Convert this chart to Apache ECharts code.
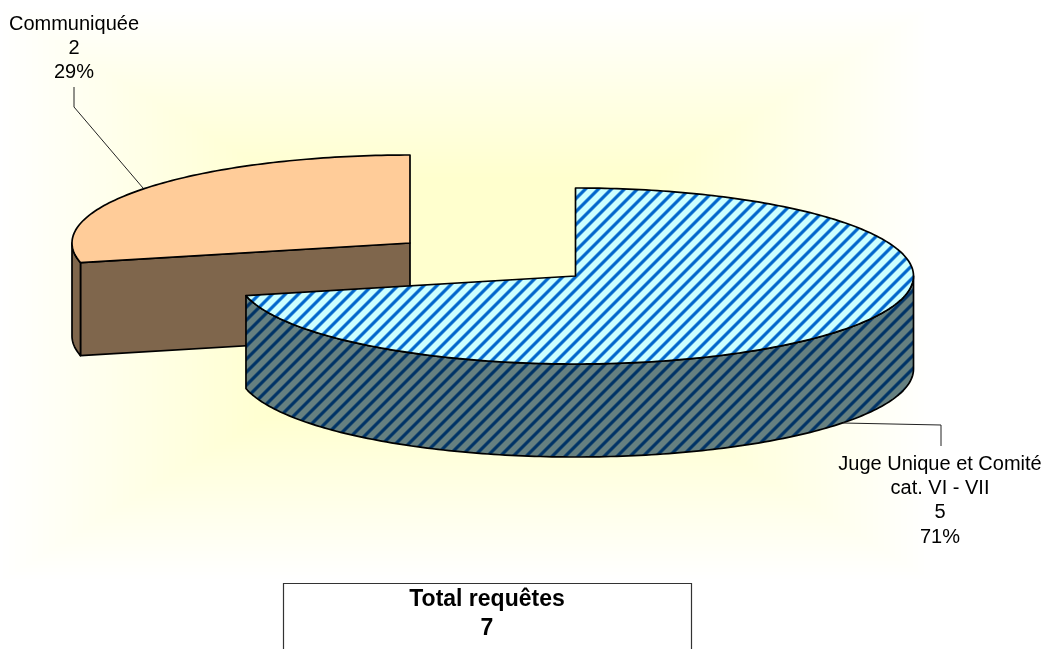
<!DOCTYPE html>
<html>
<head>
<meta charset="utf-8">
<title>Total requêtes</title>
<script src="https://cdn.jsdelivr.net/npm/echarts@6/dist/echarts.min.js"></script>
<style>
  html, body { margin: 0; padding: 0; background: #fff; }
  #chart { width: 1043px; height: 649px; }
</style>
</head>
<body>
<div id="chart"></div>
<script>
// data
var categories = ['Juge Unique et Comité\ncat. VI - VII', 'Communiquée'];
var values = [5, 2];

// pie geometry: squashed ellipse, one exploded centre per slice
var RX = 338, RY = 88, DEPTH = 93;
var centers = [[575.5, 276], [410, 243]];
var zOrder = [10, 0];

// leader lines and label anchors
var leaders = [[[843, 423], [941, 425], [941, 446]], [[143, 188], [74, 107], [74, 87]]];
var labelPos = [[940, 452], [74, 12]];

var total = values.reduce(function (a, b) { return a + b; }, 0);

// diagonal hatch tile
function hatch(bg, fg, period, width, shift) {
    var c = document.createElement('canvas');
    c.width = c.height = period;
    var ctx = c.getContext('2d');
    var b = echarts.color.parse(bg), f = echarts.color.parse(fg);
    var img = ctx.createImageData(period, period);
    for (var y = 0; y < period; y++) {
        for (var x = 0; x < period; x++) {
            var d = (x + y + shift) % period;
            // distance from stripe centre, soft edge
            var dist = Math.abs(d - period / 2);
            var t = Math.max(0, Math.min(1, (width / 2 - dist) / 2 + 0.5));
            var i = (y * period + x) * 4;
            img.data[i] = b[0] + (f[0] - b[0]) * t;
            img.data[i + 1] = b[1] + (f[1] - b[1]) * t;
            img.data[i + 2] = b[2] + (f[2] - b[2]) * t;
            img.data[i + 3] = 255;
        }
    }
    ctx.putImageData(img, 0, 0);
    return { image: c, repeat: 'repeat' };
}

var topFill = [hatch('#CCFFFF', '#0066CC', 13, 4.5, 0), '#FFCC99'];
var wallFill = [hatch('#668080', '#003366', 13, 4.5, 0), '#7F664C'];

// rectangular "from centre" gradient behind the plot
function backdrop() {
    var w = 1043, h = 649, cx = 466, cy = 293, hw = 466, hh = 287;
    var c = document.createElement('canvas');
    c.width = w; c.height = h;
    var ctx = c.getContext('2d');
    var img = ctx.createImageData(w, h);
    for (var y = 0; y < h; y++) {
        for (var x = 0; x < w; x++) {
            var t = Math.max(Math.abs(x - cx) / hw, Math.abs(y - cy) / hh);
            t = Math.max(0, Math.min(1, (t - 0.4) / 0.6));
            var i = (y * w + x) * 4;
            img.data[i] = 255;
            img.data[i + 1] = 255;
            img.data[i + 2] = 206 + 49 * t;
            img.data[i + 3] = 255;
        }
    }
    ctx.putImageData(img, 0, 0);
    return c;
}

// angle is clockwise from 12 o'clock
function pt(c, deg, dy) {
    var a = deg * Math.PI / 180;
    return [c[0] + RX * Math.sin(a), c[1] - RY * Math.cos(a) + (dy || 0)];
}

function arc(c, from, to, dy) {
    var pts = [];
    for (var d = from; d < to; d += 1) pts.push(pt(c, d, dy));
    pts.push(pt(c, to, dy));
    return pts;
}

function poly(points, fill, z2) {
    return {
        type: 'polygon',
        shape: { points: points },
        style: { fill: fill, stroke: '#000', lineWidth: 1.7, lineJoin: 'round' },
        z2: z2
    };
}

function renderSlice(params) {
    var i = params.dataIndex;
    var c = centers[i];
    var before = 0;
    for (var k = 0; k < i; k++) before += values[k];
    var start = before / total * 360;
    var end = (before + values[i]) / total * 360;
    var z = zOrder[i];
    var children = [];

    // cut face on the start side shows only when it looks towards the viewer
    if (Math.sin(start * Math.PI / 180) < -0.001) {
        var p = pt(c, start);
        children.push(poly([p, c, [c[0], c[1] + DEPTH], [p[0], p[1] + DEPTH]], wallFill[i], z));
    }

    // outer wall, front half of the ellipse only
    var w0 = Math.max(start, 90), w1 = Math.min(end, 270);
    if (w1 > w0) {
        var upper = arc(c, w0, w1, 0);
        var lower = arc(c, w0, w1, DEPTH).reverse();
        children.push(poly(upper.concat(lower), wallFill[i], z + 1));
    }

    // top face
    children.push(poly([c].concat(arc(c, start, end, 0)), topFill[i], z + 2));

    // leader and label
    children.push({
        type: 'polyline',
        shape: { points: leaders[i] },
        style: { fill: null, stroke: '#222', lineWidth: 1 },
        z2: z + 3
    });
    children.push({
        type: 'text',
        style: {
            text: categories[i] + '\n' + values[i] + '\n' + Math.round(values[i] / total * 100) + '%',
            x: labelPos[i][0],
            y: labelPos[i][1],
            align: 'center',
            verticalAlign: 'top',
            font: '20px "Liberation Sans", Arial, sans-serif',
            lineHeight: 24.3,
            fill: '#000'
        },
        z2: z + 3
    });
    return { type: 'group', children: children };
}

var myChart = echarts.init(document.getElementById('chart'));

var option = {
    animation: false,
    backgroundColor: '#fff',
    graphic: [
        { type: 'image', z: 0, silent: true, style: { image: backdrop(), x: 0, y: 0 } },
        {
            type: 'rect', z: 5, silent: true,
            shape: { x: 283.5, y: 583.5, width: 408, height: 90 },
            style: { fill: 'none', stroke: '#333', lineWidth: 1.2 }
        },
        {
            type: 'text', z: 5, silent: true,
            style: {
                text: 'Total requêtes\n' + total,
                x: 487, y: 585,
                align: 'center', verticalAlign: 'top',
                font: 'bold 23px "Liberation Sans", Arial, sans-serif',
                lineHeight: 29,
                fill: '#000'
            }
        }
    ],
    series: [{
        type: 'custom',
        coordinateSystem: 'none',
        silent: true,
        z: 2,
        data: values,
        renderItem: renderSlice
    }]
};

myChart.setOption(option);
</script>
</body>
</html>
